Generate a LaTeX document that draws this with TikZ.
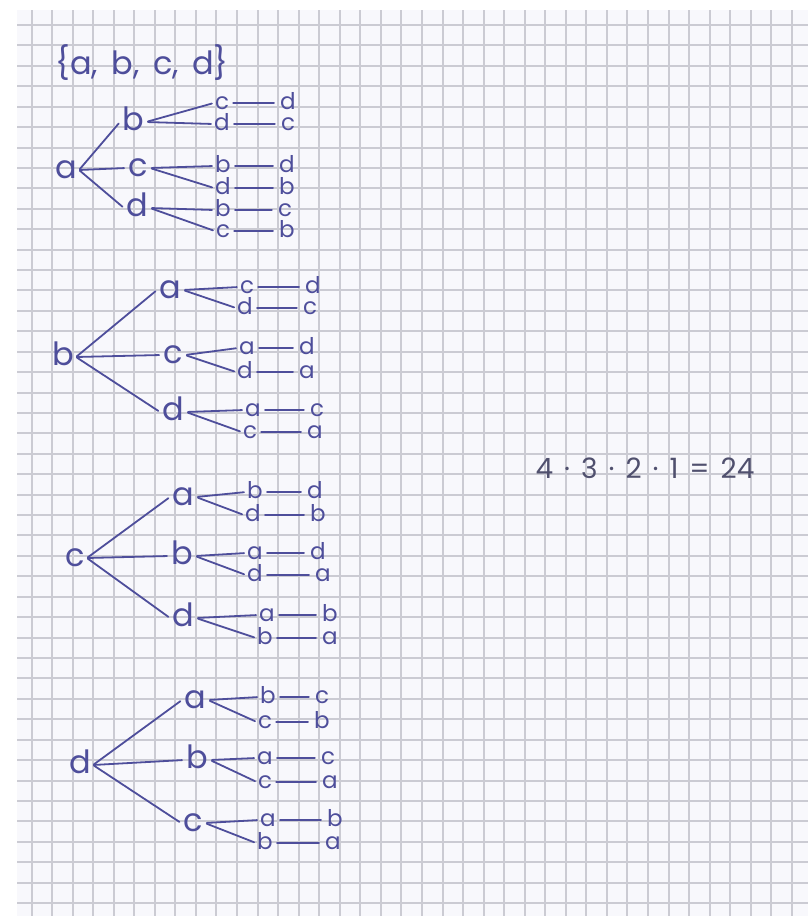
\documentclass[tikz,border=0pt]{standalone}
\usepackage{fontspec}
\setmainfont{Poppins}
\definecolor{ink}{RGB}{78,78,155}
\definecolor{gridc}{RGB}{203,203,211}
\definecolor{paper}{RGB}{248,248,252}
\definecolor{pencil}{RGB}{80,80,110}
\tikzset{
  big/.style={text=ink, font=\fontsize{32}{32}\selectfont, inner sep=2pt, text height=17.5pt, text depth=0pt},
  leaf/.style={text=ink, font=\fontsize{23}{23}\selectfont, inner sep=1pt, text height=12.6pt, text depth=0pt},
  pen/.style={draw=ink, line width=1.8pt, line cap=round},
  tie/.style={pen, shorten <=3pt, shorten >=5pt},
  gridline/.style={draw=gridc, line width=2pt}
}
\begin{document}
\begin{tikzpicture}[x=1pt,y=-1pt]
\useasboundingbox (0,0) rectangle (808,916);
\fill[white] (0,0) rectangle (808,916);
\fill[paper] (17,10) rectangle (808,916);
\foreach \k in {0,...,37} {\pgfmathsetmacro{\gx}{round(31.5+20.55*\k)}\draw[gridline] (\gx,10) -- (\gx,916);}
\foreach \k in {0,...,43} {\pgfmathsetmacro{\gy}{round(25+20.42*\k)}\draw[gridline] (17,\gy) -- (808,\gy);}

% set
\node[big] (set) at (142,66) {\{a,\hspace{5pt} b,\hspace{5pt} c,\hspace{5pt} d\}};

% tree a
\node[big] (rA) at (66,170) {a};
\node[big] (Ab) at (133,122) {b};
\node[big] (Ac) at (138,168) {c};
\node[big] (Ad) at (137,208) {d};
% tree b
\node[big] (rB) at (63,357) {b};
\node[big] (Ba) at (170,290) {a};
\node[big] (Bc) at (173,355) {c};
\node[big] (Bd) at (173,412) {d};
% tree c
\node[big] (rC) at (75,558) {c};
\node[big] (Ca) at (183,497) {a};
\node[big] (Cb) at (182,556) {b};
\node[big] (Cd) at (183,618) {d};
% tree d
\node[big] (rD) at (80,765) {d};
\node[big] (Da) at (195,700) {a};
\node[big] (Db) at (197,760) {b};
\node[big] (Dc) at (193,823) {c};

\foreach \r/\c in {rA/Ab, rA/Ac, rA/Ad, rB/Ba, rB/Bc, rB/Bd, rC/Ca, rC/Cb, rC/Cd, rD/Da, rD/Db, rD/Dc}
  {\draw[pen, shorten <=1pt, shorten >=2pt] (\r.east) -- (\c.west);}

\foreach \p/\n/\xa/\xb/\y/\la/\lb in {
  Ab/Ab1/222/288/103/c/d, Ab/Ab2/222/288/124/d/c,
  Ac/Ac1/223/287/166/b/d, Ac/Ac2/223/287/188/d/b,
  Ad/Ad1/223/285/210/b/c, Ad/Ad2/223/287/231/c/b,
  Ba/Ba1/247/313/287/c/d, Ba/Ba2/245/310/308/d/c,
  Bc/Bc1/247/307/348/a/d, Bc/Bc2/245/307/372/d/a,
  Bd/Bd1/253/317/410/a/c, Bd/Bd2/250/315/432/c/a,
  Ca/Ca1/255/315/492/b/d, Ca/Ca2/253/318/515/d/b,
  Cb/Cb1/255/318/553/a/d, Cb/Cb2/255/323/575/d/a,
  Cd/Cd1/267/330/615/a/b, Cd/Cd2/265/330/638/b/a,
  Da/Da1/268/322/697/b/c, Da/Da2/265/322/722/c/b,
  Db/Db1/265/328/758/a/c, Db/Db2/265/330/782/c/a,
  Dc/Dc1/268/335/820/a/b, Dc/Dc2/265/333/843/b/a}
{
  \node[leaf] (\n L) at (\xa,\y) {\la};
  \node[leaf] (\n R) at (\xb,\y) {\lb};
  \draw[tie] (\n L) -- (\n R);
  \draw[pen, shorten <=2pt, shorten >=2pt] (\p.east) -- (\n L.west);
}

\node[text=pencil, font=\fontsize{28}{28}\selectfont] (prod) at (645,468)
  {4\hspace{3.5pt} · \hspace{3.5pt}3\hspace{3.5pt} · \hspace{3.5pt}2\hspace{3.5pt} · \hspace{3.5pt}1\hspace{3.5pt} = \hspace{3.5pt}24};
\end{tikzpicture}
\end{document}
